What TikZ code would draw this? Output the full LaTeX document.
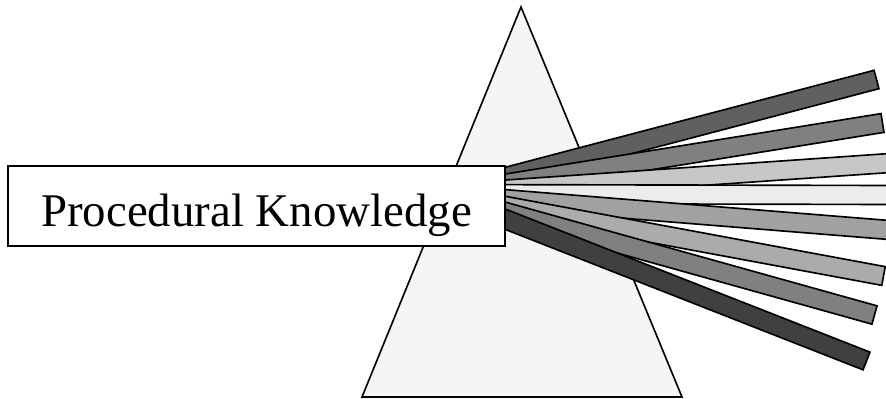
\documentclass[tikz,border=0pt]{standalone}
\usepackage{fontspec}
\setmainfont{Liberation Serif}
\usepackage{xcolor}
\usetikzlibrary{calc,shadows}

\definecolor{prismfill}{gray}{0.96}
\definecolor{rayA}{gray}{0.375}
\definecolor{rayB}{gray}{0.50}
\definecolor{rayC}{gray}{0.78}
\definecolor{rayD}{gray}{0.925}
\definecolor{rayE}{gray}{0.63}
\definecolor{rayF}{gray}{0.67}
\definecolor{rayG}{gray}{0.50}
\definecolor{rayH}{gray}{0.25}

\begin{document}
\begin{tikzpicture}[x=0.03cm, y=-0.03cm, line width=1.4pt,
    ray/.style={draw=black, line join=miter},
    knowbox/.style={draw=black, fill=white, inner sep=0pt, anchor=base,
        minimum width=14.91cm, text height=1.83cm, text depth=0.57cm,
        font=\fontsize{40}{48}\selectfont,
        drop shadow={shadow xshift=0.035cm, shadow yshift=-0.035cm, fill=black, opacity=1}}]
    \useasboundingbox (0,0) rectangle (886,399);
    \clip (0,0) rectangle (886,399);

    % Prism
    \coordinate (apex) at (521,7);
    \coordinate (baseL) at (362,397);
    \coordinate (baseR) at (682,397);
    \filldraw[fill=prismfill] (apex) -- (baseR) -- (baseL) -- cycle;

    % Rays fanning out from behind the box
    \coordinate (src) at (441,194);
    \def\hw{0.285cm}
    \foreach \shade/\ex/\ey in {rayA/876.5/79.5, rayB/882.5/123, rayC/890/163,
        rayD/891/195, rayE/889/230, rayF/883.5/276, rayG/874.5/315, rayH/866.5/361} {
        \coordinate (tip) at (\ex,\ey);
        \filldraw[ray, fill=\shade] ($(src)!\hw!90:(tip)$) -- ($(tip)!\hw!-90:(src)$)
            -- ($(tip)!\hw!90:(src)$) -- ($(src)!\hw!-90:(tip)$) -- cycle;
    }

    % Label box
    \node[knowbox] (box) at (256.5,227) {Procedural Knowledge};
\end{tikzpicture}
\end{document}
